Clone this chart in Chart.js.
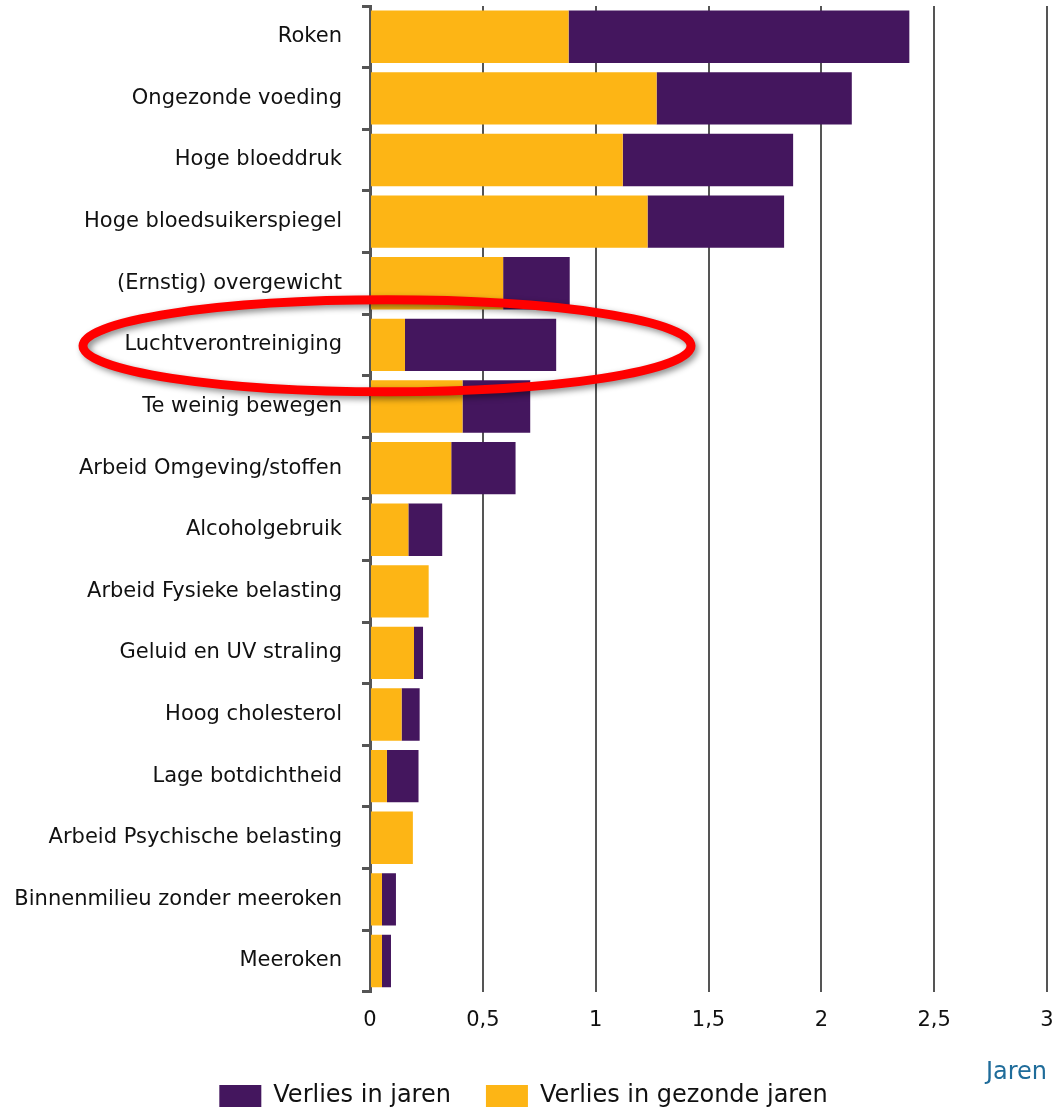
<!DOCTYPE html>
<html>
<head>
<meta charset="utf-8">
<script src="https://cdn.jsdelivr.net/npm/chart.js@4/dist/chart.umd.min.js"></script>
<style>
  html, body { margin: 0; padding: 0; background: #fff; }
  #wrap { width: 1054px; height: 1108px; }
</style>
</head>
<body>
<div id="wrap"><canvas id="chart"></canvas></div>
<script>
const categories = [
    "Roken", "Ongezonde voeding", "Hoge bloeddruk", "Hoge bloedsuikerspiegel",
    "(Ernstig) overgewicht", "Luchtverontreiniging", "Te weinig bewegen",
    "Arbeid Omgeving/stoffen", "Alcoholgebruik", "Arbeid Fysieke belasting",
    "Geluid en UV straling", "Hoog cholesterol", "Lage botdichtheid",
    "Arbeid Psychische belasting", "Binnenmilieu zonder meeroken", "Meeroken"
];
// verlies in gezonde jaren (geel)
const gezondeJaren = [0.88, 1.27, 1.12, 1.23, 0.59, 0.155, 0.41, 0.36, 0.17, 0.26, 0.195, 0.14, 0.075, 0.19, 0.053, 0.053];
// extra deel tot totaal verlies in jaren (paars)
const extraJaren = [1.51, 0.865, 0.755, 0.605, 0.295, 0.67, 0.30, 0.285, 0.15, 0, 0.04, 0.08, 0.14, 0, 0.062, 0.04];
const xTicks = [0, 0.5, 1, 1.5, 2, 2.5, 3];
const xTitle = "Jaren";

const highlight = "Luchtverontreiniging";
const font = "'DejaVu Sans', Verdana, sans-serif";

// rode ellips rond de gemarkeerde categorie + aslabel "Jaren"
const extrasPlugin = {
    id: "extras",
    afterDraw(chart) {
        const ctx = chart.ctx;
        const xs = chart.scales.x;
        const y = chart.scales.y.getPixelForValue(categories.indexOf(highlight));
        const cx = xs.getPixelForValue(0) + 17;
        ctx.save();
        ctx.shadowColor = "rgba(0,0,0,0.45)";
        ctx.shadowBlur = 6;
        ctx.shadowOffsetX = 3;
        ctx.shadowOffsetY = 3;
        ctx.strokeStyle = "#ff0000";
        ctx.lineWidth = 9;
        ctx.beginPath();
        ctx.ellipse(cx, y + 1, 304, 46, 0, 0, Math.PI * 2);
        ctx.stroke();
        ctx.restore();

        ctx.save();
        ctx.font = "24px " + font;
        ctx.fillStyle = "#1f6c9a";
        ctx.textAlign = "right";
        ctx.textBaseline = "middle";
        ctx.fillText(xTitle, xs.right, xs.bottom + 24);
        ctx.restore();
    }
};

new Chart(document.getElementById("chart"), {
    type: "bar",
    data: {
        labels: categories,
        datasets: [
            { label: "Verlies in gezonde jaren", data: gezondeJaren, backgroundColor: "#fdb515" },
            { label: "Verlies in jaren", data: extraJaren, backgroundColor: "#44165e" }
        ]
    },
    options: {
        indexAxis: "y",
        responsive: true,
        maintainAspectRatio: false,
        animation: false,
        layout: { padding: { left: 0, right: 7, top: 6, bottom: -10 } },
        datasets: { bar: { barPercentage: 0.85, categoryPercentage: 1 } },
        plugins: {
            tooltip: { enabled: false },
            legend: {
                position: "bottom",
                reverse: true,
                labels: {
                    font: { family: font, size: 24 },
                    color: "#111",
                    boxWidth: 42,
                    boxHeight: 22,
                    padding: 35
                }
            }
        },
        scales: {
            x: {
                stacked: true,
                min: 0,
                max: 3,
                afterBuildTicks(scale) { scale.ticks = xTicks.map(v => ({ value: v })); },
                afterFit(scale) { scale.paddingLeft = 0; scale.paddingRight = 0; },
                ticks: {
                    font: { family: font, size: 21 },
                    color: "#111",
                    padding: 16,
                    callback: v => String(v).replace(".", ",")
                },
                grid: { color: "#555", lineWidth: 2, drawTicks: false },
                border: { display: false }
            },
            y: {
                stacked: true,
                afterFit(scale) { scale.width = 370; scale.paddingTop = 0; scale.paddingBottom = 0; },
                ticks: {
                    font: { family: font, size: 21 },
                    color: "#111",
                    padding: 20
                },
                grid: { offset: true, drawOnChartArea: false, color: "#555", lineWidth: 3, tickLength: 8 },
                border: { color: "#555", width: 3 }
            }
        }
    },
    plugins: [extrasPlugin]
});
</script>
</body>
</html>
